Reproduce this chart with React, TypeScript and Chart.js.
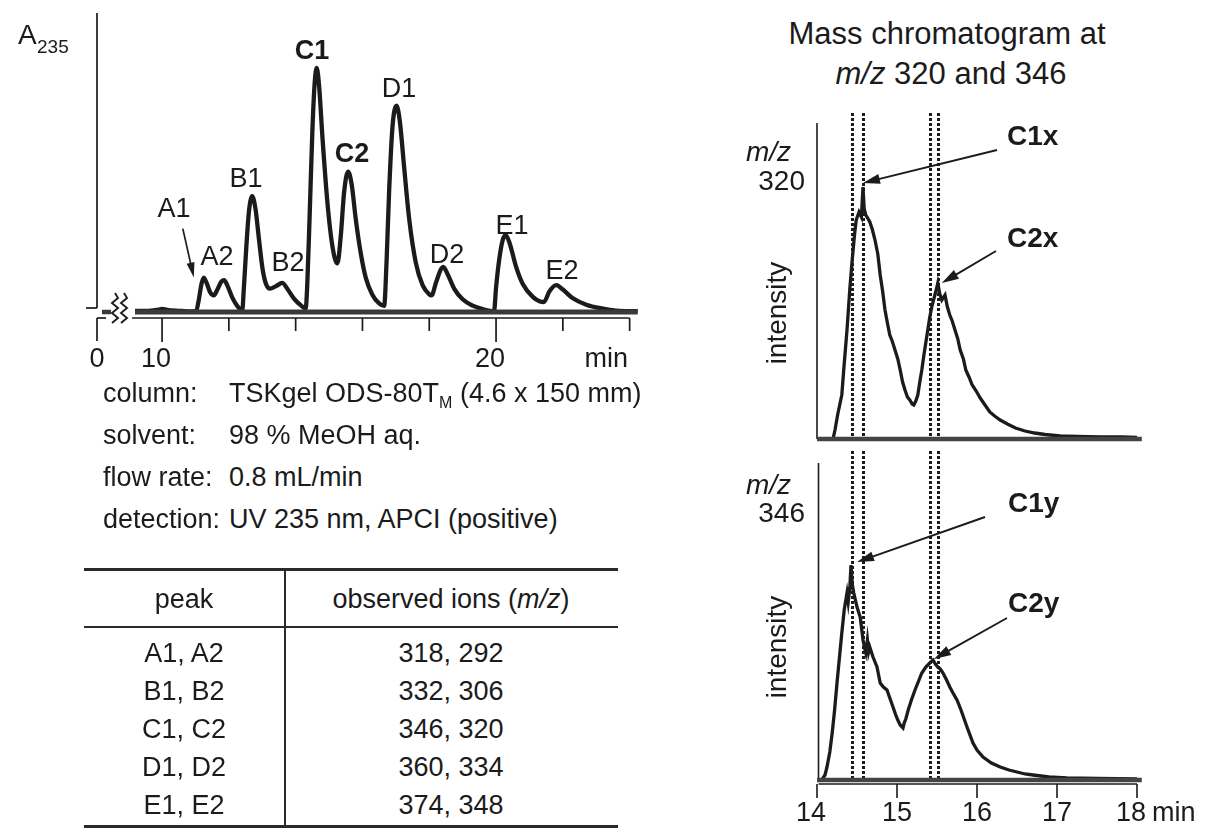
import React, { useEffect, useRef } from "react";
import { Chart, registerables } from "chart.js";

Chart.register(...registerables);

const FONT = '"Liberation Sans", Arial, Helvetica, sans-serif';
const INK = "#1b1b1b";

// ---------------- DATA ----------------
// HPLC trace, A235 (time in min, relative absorbance, C1 = 100)
const uvTrace: [number, number][] = [
  [9.19, 0.4], [9.6, 0.5], [9.9, 1.0], [10.0, 1.3], [10.15, 0.9], [10.5, 0.5], [10.9, 0.2],
  [11.02, 0.3], [11.1, 5], [11.18, 11.5], [11.25, 14.1], [11.33, 12], [11.45, 7.8], [11.55, 6.8],
  [11.65, 9], [11.78, 12.5], [11.86, 13], [11.95, 11], [12.1, 6], [12.25, 2.5], [12.4, 0.5],
  [12.45, 10], [12.52, 26], [12.6, 41], [12.7, 47.5], [12.8, 42], [12.9, 30], [13.0, 18.5],
  [13.1, 12], [13.23, 9.6], [13.4, 10.5], [13.6, 11.9], [13.75, 9.5], [13.95, 5.5], [14.15, 2.8],
  [14.3, 1.5], [14.35, 12], [14.42, 40], [14.5, 74], [14.57, 94], [14.63, 100], [14.7, 93],
  [14.8, 72], [14.95, 45], [15.1, 27], [15.25, 19.9], [15.35, 31], [15.45, 49], [15.57, 57.5],
  [15.68, 52], [15.8, 38], [15.95, 24], [16.1, 14], [16.3, 7], [16.5, 3.5], [16.65, 2.5],
  [16.72, 20], [16.8, 50], [16.9, 76], [17.02, 84.5], [17.12, 78], [17.25, 59], [17.4, 38],
  [17.6, 20], [17.8, 11], [18.0, 7.2], [18.07, 6.8], [18.2, 12], [18.35, 17.5], [18.42, 18.5],
  [18.55, 15.5], [18.75, 9.5], [19.0, 5.2], [19.3, 2.6], [19.6, 1.2], [19.94, 0.3], [20.0, 10],
  [20.1, 22], [20.2, 29.5], [20.29, 31.5], [20.4, 28.5], [20.6, 18.5], [20.8, 11.5], [21.1, 6.2],
  [21.3, 4.4], [21.43, 4.1], [21.6, 8.5], [21.8, 11], [22.0, 9.2], [22.3, 5.6], [22.7, 3],
  [23.2, 1.4], [23.6, 0.6], [24.24, 0.3],
];
const uvBaselineSpan = [9.19, 24.24];
const uvTicks = [10, 12, 14, 16, 18, 20, 22, 24];
const uvMajorTicks = [10, 20];
const uvBreakLabel = "0";
const timeUnit = "min";

// Mass chromatograms (time in min, intensity arbitrary units)
const ms320: [number, number][] = [
  [14.0, 0], [14.2, 0], [14.225, 9], [14.26, 25], [14.31, 44], [14.34, 75], [14.375, 109],
  [14.41, 150], [14.44, 179], [14.47, 205], [14.49, 219], [14.525, 227], [14.555, 222],
  [14.575, 252], [14.59, 230], [14.61, 224], [14.64, 220], [14.66, 217], [14.69, 210],
  [14.725, 199], [14.76, 185], [14.79, 164], [14.82, 148], [14.85, 129], [14.88, 116],
  [14.91, 104], [14.94, 98], [14.975, 89], [15.01, 80], [15.04, 69], [15.07, 57], [15.1, 49],
  [15.13, 42], [15.16, 39], [15.19, 35], [15.21, 34], [15.235, 38], [15.26, 44], [15.285, 57],
  [15.31, 69], [15.34, 86], [15.375, 104], [15.41, 122], [15.44, 134], [15.47, 143],
  [15.49, 149], [15.51, 156], [15.535, 145], [15.56, 139], [15.6, 144], [15.63, 132],
  [15.66, 124], [15.69, 118], [15.725, 109], [15.76, 100], [15.79, 89], [15.83, 80],
  [15.86, 69], [15.9, 62], [15.94, 54], [15.99, 48], [16.04, 41], [16.1, 34], [16.16, 27],
  [16.22, 23], [16.29, 19], [16.38, 15], [16.48, 11], [16.6, 8], [16.72, 6], [16.85, 4.5],
  [17.04, 3], [17.25, 2.5], [17.54, 2], [17.8, 2], [18.0, 1.5],
];
const ms346: [number, number][] = [
  [14.0, 0], [14.06, 0], [14.1, 5], [14.125, 13], [14.16, 28], [14.19, 47], [14.22, 70],
  [14.25, 97], [14.28, 122], [14.31, 147], [14.34, 170], [14.375, 187], [14.39, 178],
  [14.41, 192], [14.425, 215], [14.44, 196], [14.46, 187], [14.5, 173], [14.54, 163],
  [14.56, 150], [14.575, 140], [14.6, 130], [14.61, 127], [14.63, 140], [14.645, 128],
  [14.66, 133], [14.7, 123], [14.725, 118], [14.75, 113], [14.79, 97], [14.83, 93],
  [14.875, 90], [14.91, 82], [14.95, 73], [14.98, 66], [15.01, 60], [15.04, 55], [15.075, 52],
  [15.09, 57], [15.11, 61], [15.14, 70], [15.18, 80], [15.225, 90], [15.27, 99], [15.31, 107],
  [15.36, 113], [15.41, 117], [15.45, 120], [15.48, 116], [15.51, 113], [15.54, 111],
  [15.575, 107], [15.62, 100], [15.66, 93], [15.7, 87], [15.75, 80], [15.8, 70], [15.875, 53],
  [15.95, 37], [16.0, 30], [16.075, 23], [16.18, 17], [16.29, 13], [16.4, 10], [16.5, 8],
  [16.6, 6], [16.7, 5], [16.9, 3], [17.125, 2], [17.5, 1.5], [18.0, 1],
];
const msSpan = [14, 18];
const msTicks = [14, 15, 16, 17, 18];
const markerTimes = [14.44, 14.575, 15.41, 15.51];
const ms320Peaks = [
  { label: "C1x", t: 14.575, v: 252 },
  { label: "C2x", t: 15.51, v: 156 },
];
const ms346Peaks = [
  { label: "C1y", t: 14.425, v: 215 },
  { label: "C2y", t: 15.45, v: 120 },
];

const conditionNames = ["column:", "solvent:", "flow rate:", "detection:"];
const conditionValues = ["TSKgel ODS-80T|M| (4.6 x 150 mm)", "98 % MeOH aq.", "0.8 mL/min", "UV 235 nm, APCI (positive)"];
const tablePeaks = ["A1, A2", "B1, B2", "C1, C2", "D1, D2", "E1, E2"];
const tableIons = ["318, 292", "332, 306", "346, 320", "360, 334", "374, 348"];

// ---------------- LAYOUT ----------------
const uvPeakLabelPos: Record<string, [number, number, boolean]> = {
  A1: [174, 208, false], A2: [217, 256, false], B1: [246, 178, false], B2: [288, 262, false],
  C1: [312, 50, true], C2: [352, 153, true], D1: [399, 88, false], D2: [447, 254, false],
  E1: [512, 225, false], E2: [562, 270, false],
};
const upperTails = [[297, 50], [296, 151]];
const upperTipOffset = [[0, -4], [4, 0]];
const lowerTails = [[285, 66], [307, 167]];
const lowerTipOffset = [[6, -3], [1, -1]];

function drawArrow(ctx: CanvasRenderingContext2D, x1: number, y1: number, x2: number, y2: number, head = 16, w = 4.5) {
  const ang = Math.atan2(y2 - y1, x2 - x1);
  const bx = x2 - head * Math.cos(ang);
  const by = y2 - head * Math.sin(ang);
  ctx.beginPath();
  ctx.moveTo(x1, y1);
  ctx.lineTo(bx + 2 * Math.cos(ang), by + 2 * Math.sin(ang));
  ctx.stroke();
  ctx.beginPath();
  ctx.moveTo(x2, y2);
  ctx.lineTo(bx + w * Math.sin(ang), by - w * Math.cos(ang));
  ctx.lineTo(bx - w * Math.sin(ang), by + w * Math.cos(ang));
  ctx.closePath();
  ctx.fill();
}

function seg(ctx: CanvasRenderingContext2D, x1: number, y1: number, x2: number, y2: number) {
  ctx.beginPath();
  ctx.moveTo(x1, y1);
  ctx.lineTo(x2, y2);
  ctx.stroke();
}

const uvPlugin = {
  id: "uvAxes",
  beforeDatasetsDraw(chart: any) {
    const { ctx, chartArea, scales } = chart;
    const x = scales.x, y = scales.y;
    const y0 = y.getPixelForValue(0);
    const axisY = y0 + 6;
    const yAxisX = chartArea.left - 35;
    ctx.save();
    ctx.strokeStyle = INK;
    ctx.fillStyle = INK;
    ctx.lineWidth = 1.7;
    seg(ctx, yAxisX, chartArea.top, yAxisX, y0 - 4);
    seg(ctx, yAxisX - 11, y0 - 4, yAxisX, y0 - 4);
    seg(ctx, yAxisX, axisY, yAxisX + 9, axisY);
    seg(ctx, yAxisX, axisY, yAxisX, axisY + 23);
    seg(ctx, chartArea.left, axisY, x.getPixelForValue(24), axisY);
    uvTicks.forEach((t) => {
      const px = x.getPixelForValue(t);
      seg(ctx, px, axisY, px, axisY + (uvMajorTicks.includes(t) ? 24 : 13));
    });
    // axis break squiggles
    ctx.lineWidth = 1.9;
    [0, 9].forEach((dx) => {
      const bx = yAxisX + 16 + dx;
      ctx.beginPath();
      ctx.moveTo(bx + 2, y0 - 19);
      ctx.lineTo(bx + 5, y0 - 14);
      ctx.lineTo(bx - 1, y0 - 9);
      ctx.lineTo(bx + 5, y0 - 4);
      ctx.lineTo(bx - 1, y0 + 1);
      ctx.lineTo(bx + 5, y0 + 6);
      ctx.lineTo(bx - 1, y0 + 11);
      ctx.stroke();
    });
    ctx.lineWidth = 4.5;
    ctx.strokeStyle = "#3a3a3a";
    seg(ctx, yAxisX + 5, y0, yAxisX + 14, y0);
    // tick labels
    ctx.fillStyle = INK;
    ctx.font = `27px ${FONT}`;
    ctx.textAlign = "center";
    ctx.textBaseline = "middle";
    ctx.fillText(uvBreakLabel, yAxisX, axisY + 42);
    uvMajorTicks.forEach((t) => ctx.fillText(String(t), x.getPixelForValue(t) - 6, axisY + 42));
    ctx.fillText(timeUnit, x.getPixelForValue(23.3), axisY + 42);
    // A1 arrow
    ctx.lineWidth = 1.7;
    ctx.strokeStyle = INK;
    const tipX = x.getPixelForValue(11.25) - 10;
    const tipY = y.getPixelForValue(14.1);
    drawArrow(ctx, tipX - 11, tipY - 49, tipX, tipY, 15, 4);
    ctx.restore();
  },
};

function makeMsPlugin(lower: boolean, peaks: { label: string; t: number; v: number }[], tails: number[][], offs: number[][]) {
  return {
    id: lower ? "msLower" : "msUpper",
    beforeDatasetsDraw(chart: any) {
      const { ctx, chartArea, scales } = chart;
      const x = scales.x, y = scales.y;
      const y0 = y.getPixelForValue(0);
      ctx.save();
      ctx.strokeStyle = INK;
      ctx.lineWidth = 1.6;
      const ax = chartArea.left + (lower ? 1.5 : 0);
      seg(ctx, ax, chartArea.top, ax, y0);
      // dotted retention markers
      ctx.lineWidth = 3;
      ctx.setLineDash([3, 2]);
      markerTimes.forEach((t) => {
        const px = Math.round(x.getPixelForValue(t)) + 0.5;
        seg(ctx, px, lower ? 0 : chartArea.top - 10, px, y0);
      });
      ctx.setLineDash([]);
      if (lower) {
        ctx.lineWidth = 1.6;
        const axisY = y0 + 4;
        seg(ctx, ax, axisY, x.getPixelForValue(18), axisY);
        ctx.fillStyle = INK;
        ctx.font = `27px ${FONT}`;
        ctx.textAlign = "center";
        ctx.textBaseline = "middle";
        msTicks.forEach((t) => {
          const px = x.getPixelForValue(t);
          seg(ctx, px, axisY, px, axisY + 14);
          ctx.fillText(String(t), px - (t === 14 || t === 18 ? 6 : 0), axisY + 30);
        });
        ctx.textAlign = "left";
        ctx.fillText(timeUnit, x.getPixelForValue(18) + 15, axisY + 30);
      }
      ctx.restore();
    },
    afterDatasetsDraw(chart: any) {
      const { ctx, scales } = chart;
      const x = scales.x, y = scales.y;
      ctx.save();
      ctx.strokeStyle = INK;
      ctx.fillStyle = INK;
      ctx.lineWidth = 1.9;
      peaks.forEach((p, i) => {
        const tx = x.getPixelForValue(p.t) + offs[i][0];
        const ty = y.getPixelForValue(p.v) + offs[i][1];
        drawArrow(ctx, tails[i][0], tails[i][1], tx, ty, 17, 5);
      });
      ctx.restore();
    },
  };
}

function msConfig(trace: [number, number][], yMax: number, plugin: any, pad: any): any {
  return {
    type: "line",
    data: {
      datasets: [
        {
          data: [{ x: msSpan[0], y: 0 }, { x: msSpan[1] + 0.06, y: 0 }],
          borderColor: "#444",
          borderWidth: 4.5,
          pointRadius: 0,
          clip: false,
        },
        {
          data: trace.map(([t, v]) => ({ x: t, y: v })),
          borderColor: INK,
          borderWidth: 3.3,
          pointRadius: 0,
          tension: 0,
          clip: false,
        },
      ],
    },
    options: {
      animation: false,
      responsive: false,
      maintainAspectRatio: false,
      events: [],
      layout: { padding: pad },
      plugins: { legend: { display: false }, tooltip: { enabled: false } },
      scales: {
        x: { type: "linear", min: msSpan[0], max: msSpan[1], display: false },
        y: { type: "linear", min: 0, max: yMax, display: false },
      },
    },
    plugins: [plugin],
  };
}

type TProps = { x: number; y: number; size?: number; bold?: boolean; italic?: boolean; align?: "left" | "center" | "right"; children: React.ReactNode };
function T({ x, y, size = 27, bold, italic, align = "left", children }: TProps) {
  const tx = align === "left" ? "0" : align === "center" ? "-50%" : "-100%";
  return (
    <div
      style={{
        position: "absolute",
        left: x,
        top: y,
        transform: `translate(${tx}, -50%)`,
        fontFamily: FONT,
        fontSize: size,
        fontWeight: bold ? 700 : 400,
        fontStyle: italic ? "italic" : "normal",
        lineHeight: 1,
        whiteSpace: "nowrap",
        color: INK,
      }}
    >
      {children}
    </div>
  );
}

function Rule({ x, y, w, h }: { x: number; y: number; w: number; h: number }) {
  return <div style={{ position: "absolute", left: x, top: y, width: w, height: h, background: "#2a2a2a" }} />;
}

export default function App() {
  const uvRef = useRef<HTMLCanvasElement>(null);
  const upRef = useRef<HTMLCanvasElement>(null);
  const loRef = useRef<HTMLCanvasElement>(null);

  useEffect(() => {
    const uv = new Chart(uvRef.current as HTMLCanvasElement, {
      type: "line",
      data: {
        datasets: [
          {
            data: uvBaselineSpan.map((t) => ({ x: t, y: 0 })),
            borderColor: "#3a3a3a",
            borderWidth: 5,
            pointRadius: 0,
            clip: false,
          } as any,
          {
            data: uvTrace.map(([t, v]) => ({ x: t, y: v })),
            borderColor: INK,
            borderWidth: 4.3,
            pointRadius: 0,
            cubicInterpolationMode: "monotone",
            clip: false,
          },
        ],
      },
      options: {
        animation: false,
        responsive: false,
        maintainAspectRatio: false,
        events: [],
        layout: { padding: { left: 132, right: 22, top: 13, bottom: 68 } },
        plugins: { legend: { display: false }, tooltip: { enabled: false } },
        scales: {
          x: { type: "linear", min: 9.1, max: 24.25, display: false },
          y: { type: "linear", min: 0, max: 122.5, display: false },
        },
      },
      plugins: [uvPlugin],
    } as any);

    const up = new Chart(
      upRef.current as HTMLCanvasElement,
      msConfig(ms320, 316, makeMsPlugin(false, ms320Peaks, upperTails, upperTipOffset), { left: 117, right: 68, top: 23, bottom: 12 })
    );
    const lo = new Chart(
      loRef.current as HTMLCanvasElement,
      msConfig(ms346, 317, makeMsPlugin(true, ms346Peaks, lowerTails, lowerTipOffset), { left: 117, right: 68, top: 12, bottom: 53 })
    );
    return () => {
      uv.destroy();
      up.destroy();
      lo.destroy();
    };
  }, []);

  const condY = [393, 435, 477, 519];
  const rowY = [653, 691, 729, 767, 805];
  const TS = 27;

  return (
    <div style={{ position: "absolute", left: 0, top: 0, width: 1205, height: 833, background: "#fff", overflow: "hidden" }}>
      <canvas ref={uvRef} width={660} height={380} style={{ position: "absolute", left: 0, top: 0, width: 660, height: 380 }} />
      <canvas ref={upRef} width={505} height={351} style={{ position: "absolute", left: 700, top: 100, width: 505, height: 351 }} />
      <canvas ref={loRef} width={505} height={382} style={{ position: "absolute", left: 700, top: 451, width: 505, height: 382 }} />

      {/* left chart labels */}
      <T x={18} y={35} size={28}>A</T>
      <T x={37} y={46} size={19}>235</T>
      {Object.entries(uvPeakLabelPos).map(([k, [x, y, b]]) => (
        <T key={k} x={x} y={y} align="center" bold={b}>{k}</T>
      ))}

      {/* conditions */}
      {conditionNames.map((n, i) => (
        <T key={n} x={103} y={condY[i]} size={TS}>{n}</T>
      ))}
      {conditionValues.map((v, i) => {
        const parts = v.split("|");
        return (
          <T key={i} x={229} y={condY[i]} size={TS}>
            {parts[0]}
            {parts.length > 1 && <sub style={{ fontSize: 16, verticalAlign: "-0.4em", lineHeight: 0 }}>{parts[1]}</sub>}
            {parts.length > 2 && parts[2]}
          </T>
        );
      })}

      {/* table */}
      <Rule x={84} y={568} w={534} h={3} />
      <Rule x={84} y={626} w={534} h={1.5} />
      <Rule x={84} y={825} w={534} h={3} />
      <Rule x={284} y={568} w={1.6} h={259} />
      <T x={184} y={599} size={TS} align="center">peak</T>
      <T x={451} y={599} size={TS} align="center">
        observed ions (<i>m/z</i>)
      </T>
      {tablePeaks.map((p, i) => (
        <T key={p} x={184} y={rowY[i]} size={TS} align="center">{p}</T>
      ))}
      {tableIons.map((p, i) => (
        <T key={p} x={451} y={rowY[i]} size={TS} align="center">{p}</T>
      ))}

      {/* right */}
      <T x={947} y={33} size={31} align="center">Mass chromatogram at</T>
      <T x={951} y={73} size={31} align="center">
        <i>m/z</i> 320 and 346
      </T>
      <T x={791} y={152} size={28} align="right" italic>m/z</T>
      <T x={805} y={181} size={28} align="right">320</T>
      <T x={791} y={485} size={28} align="right" italic>m/z</T>
      <T x={805} y={513} size={28} align="right">346</T>
      <div style={{ position: "absolute", left: 777, top: 313, transform: "translate(-50%, -50%) rotate(-90deg)", fontFamily: FONT, fontSize: 28, lineHeight: 1, color: INK, whiteSpace: "nowrap" }}>intensity</div>
      <div style={{ position: "absolute", left: 777, top: 647, transform: "translate(-50%, -50%) rotate(-90deg)", fontFamily: FONT, fontSize: 28, lineHeight: 1, color: INK, whiteSpace: "nowrap" }}>intensity</div>
      {ms320Peaks.map((p, i) => (
        <T key={p.label} x={1007} y={[136, 238][i]} size={28} bold>{p.label}</T>
      ))}
      {ms346Peaks.map((p, i) => (
        <T key={p.label} x={1008} y={[503, 603][i]} size={28} bold>{p.label}</T>
      ))}
    </div>
  );
}
